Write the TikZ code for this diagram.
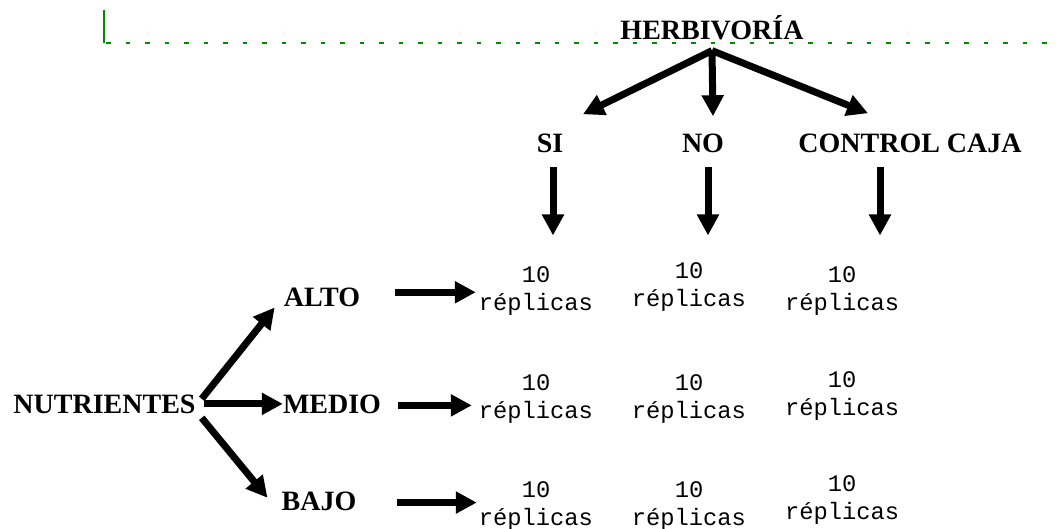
\documentclass[tikz,border=0pt]{standalone}
\usepackage{fontspec}
\setmainfont{Liberation Serif}
\setmonofont{Liberation Mono}
\usetikzlibrary{arrows.meta, calc}

\begin{document}
\begin{tikzpicture}[x=1pt, y=1pt,
  lbl/.style={font=\fontsize{28}{34}\selectfont\bfseries, inner sep=0pt, anchor=base},
  rep/.style={font=\fontsize{23.75}{28}\selectfont\ttfamily, inner sep=0pt, align=center, anchor=base},
  arr/.style={line width=7pt, -{Triangle[length=21pt,width=21pt]}},
  guide/.style={green!55!black, line width=1.2pt}]
  \useasboundingbox (0,0) rectangle (1060,-529);
  % green guide marks at the top
  \draw[guide] (104,-10) -- (104,-43);
  \draw[guide, dash pattern=on 4.5pt off 15pt] (106,-43) -- (1050,-43);
  % factor: herbivoria
  \node[lbl] (herb) at (712,-40) {HERBIVORÍA};
  \node[lbl] (si)   at (550,-153) {SI};
  \node[lbl] (no)   at (703,-153) {NO};
  \node[lbl] (ctrl) at (910,-153) {CONTROL CAJA};
  \coordinate (hub) at ([yshift=-10pt]herb.south);
  \draw[arr] (hub) -- ([xshift=33pt,yshift=20pt]si.north);
  \draw[arr] (hub) -- ([xshift=10pt,yshift=18pt]no.north);
  \draw[arr] (hub) -- ([xshift=-42pt,yshift=21pt]ctrl.north);
  \draw[arr] ([xshift=3pt,yshift=-14pt]si.south) -- ([xshift=3pt,yshift=-82pt]si.south);
  \draw[arr] ([xshift=5pt,yshift=-14pt]no.south) -- ([xshift=5pt,yshift=-82pt]no.south);
  \draw[arr] ([xshift=-30pt,yshift=-14pt]ctrl.south) -- ([xshift=-30pt,yshift=-82pt]ctrl.south);
  % factor: nutrientes
  \node[lbl] (nutr)  at (104.5,-413) {NUTRIENTES};
  \node[lbl] (alto)  at (322,-306) {ALTO};
  \node[lbl] (medio) at (332,-413) {MEDIO};
  \node[lbl] (bajo)  at (319,-510) {BAJO};
  \draw[arr] ([xshift=6pt,yshift=5pt]nutr.east) -- ([xshift=-9pt,yshift=-1pt]alto.south west);
  \draw[arr] ([xshift=8pt]nutr.east) -- (medio.west);
  \draw[arr] ([xshift=6pt,yshift=-14pt]nutr.east) -- ([xshift=-14pt,yshift=-6.5pt]bajo.north west);
  % replicas (base = last line)
  \node[rep] (r11) at (536,-310) {10\\réplicas};
  \node[rep] (r12) at (689,-306) {10\\réplicas};
  \node[rep] (r13) at (842,-310) {10\\réplicas};
  \node[rep] (r21) at (536,-418) {10\\réplicas};
  \node[rep] (r22) at (689,-418) {10\\réplicas};
  \node[rep] (r23) at (842,-415) {10\\réplicas};
  \node[rep] (r31) at (536,-525) {10\\réplicas};
  \node[rep] (r32) at (689,-525) {10\\réplicas};
  \node[rep] (r33) at (842,-519) {10\\réplicas};
  \draw[arr] ([xshift=35pt,yshift=4.6pt]alto.east) -- ($(alto.east -| r11.west)+(-3,4.6)$);
  \draw[arr] ([xshift=17pt,yshift=-1.5pt]medio.east) -- ($(medio.east -| r21.west)+(-7,-1.5)$);
  \draw[arr] ([xshift=40pt,yshift=-1.7pt]bajo.east) -- ($(bajo.east -| r31.west)+(-2,-1.7)$);
\end{tikzpicture}
\end{document}
